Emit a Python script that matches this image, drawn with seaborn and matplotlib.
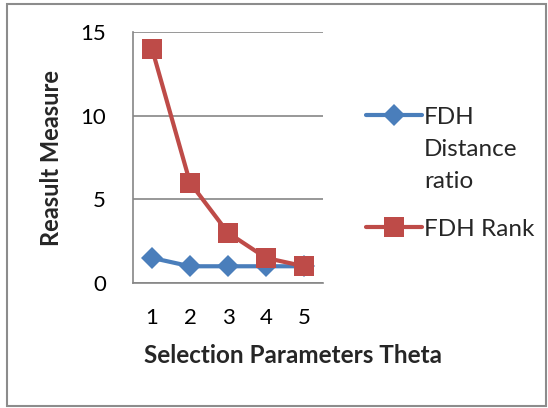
import matplotlib
matplotlib.use("Agg")
import matplotlib.pyplot as plt
import seaborn as sns
import pandas as pd
from matplotlib.patches import Rectangle

theta = [1, 2, 3, 4, 5]
fdh_distance_ratio = [1.5, 1, 1, 1, 1]
fdh_rank = [14, 6, 3, 1.5, 1]
series_names = ["FDH\nDistance\nratio", "FDH Rank"]
y_ticks = [0, 5, 10, 15]

sns.set_theme(style="white")
plt.rcParams['font.family'] = ['Lato', 'DejaVu Sans']

df = pd.DataFrame({
    "Theta": [str(t) for t in theta] * 2,
    "Value": fdh_distance_ratio + fdh_rank,
    "Series": [series_names[0]] * len(theta) + [series_names[1]] * len(theta),
})

fig = plt.figure(figsize=(5.48, 4.08), dpi=100)
fig.patch.set_facecolor("white")
fig.add_artist(Rectangle((7 / 548, 2 / 408), 539 / 548, 402 / 408, transform=fig.transFigure,
                         fill=False, edgecolor="#8c8c8c", linewidth=1.5))
ax = fig.add_axes([133 / 548, (408 - 283) / 408, 190 / 548, 251 / 408])

palette = {series_names[0]: "#4A7EBB", series_names[1]: "#BE4B48"}
markers = {series_names[0]: "D", series_names[1]: "s"}
sns.lineplot(data=df, x="Theta", y="Value", hue="Series", style="Series",
             palette=palette, markers=markers, dashes=False, linewidth=3,
             markersize=13, markeredgewidth=0, sort=False, ax=ax, zorder=3)
for line in ax.get_lines():
    if line.get_marker() == "D":
        line.set_markersize(11)
    else:
        line.set_markersize(14)

ax.set_xlim(-0.5, len(theta) - 0.5)
ax.set_ylim(0, 15)
ax.set_yticks(y_ticks)
ax.yaxis.grid(True, color="#868686", linewidth=1.2)
ax.set_axisbelow(True)
for s in ["top", "right"]:
    ax.spines[s].set_visible(False)
for s in ["left", "bottom"]:
    ax.spines[s].set_color("#868686")
    ax.spines[s].set_linewidth(1.2)
ax.set_xticks([i - 0.5 for i in range(len(theta) + 1)], minor=True)
ax.tick_params(axis="x", which="minor", length=6, width=1.2, color="#868686", direction="out")
ax.tick_params(axis="x", which="major", length=0, pad=18, labelsize=16, colors="black")
ax.tick_params(axis="y", which="major", length=7.5, width=1.2, color="#868686", direction="out",
               pad=12, labelsize=16, colors="black")
ax.set_xlabel("Selection Parameters Theta", fontsize=17.5, fontweight="bold")
ax.xaxis.set_label_coords((293 - 133) / 190, (283 - 344) / 251)
ax.xaxis.label.set_va("top")
ax.set_ylabel("Reasult Measure", fontsize=17, fontweight="bold")
ax.yaxis.set_label_coords((63 - 133) / 190, 0.5)

handles, labels = ax.get_legend_handles_labels()
ax.get_legend().remove()
leg = fig.legend(handles, labels, loc="upper left", bbox_to_anchor=(356 / 548, 1 - 97 / 408),
                 frameon=False, fontsize=17.5, handlelength=2.3, handletextpad=0.1,
                 labelspacing=1.1, borderaxespad=0)
for t in leg.get_texts():
    t.set_linespacing(1.65)
for col in leg._legend_handle_box.get_children():
    for hp in col.get_children():
        hp.align = "top"

fig.savefig("out.png", dpi=100, facecolor="white")
